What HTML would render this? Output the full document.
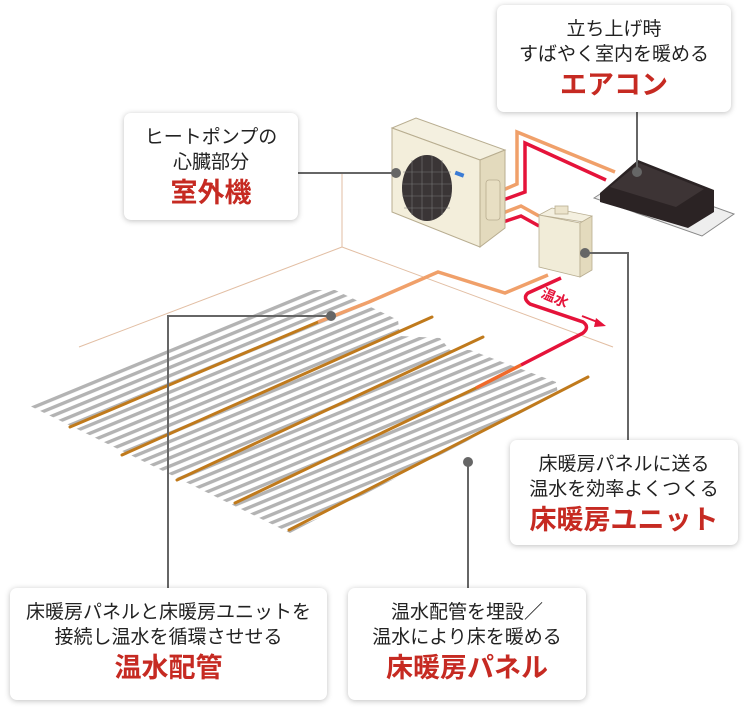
<!DOCTYPE html>
<html><head><meta charset="utf-8"><style>
html,body{margin:0;padding:0;background:#fff;}
body{width:750px;height:708px;position:relative;overflow:hidden;font-family:"Liberation Sans","Noto Sans CJK JP",sans-serif;}
.box{position:absolute;background:#fff;border-radius:7px;box-shadow:0 1px 6px rgba(0,0,0,0.25);text-align:center;color:#222;font-size:19px;line-height:25px;white-space:nowrap;}
.box b{display:block;color:#c62a22;font-size:27px;line-height:36px;font-weight:bold;margin-top:0px;}
svg{position:absolute;left:0;top:0;}
</style></head><body>
<svg width="750" height="708" viewBox="0 0 750 708">
<defs>
<pattern id="st" patternUnits="userSpaceOnUse" width="40" height="7.6" patternTransform="rotate(-22.4)">
<rect x="0" y="0" width="40" height="3.4" fill="#b3b3b3"/>
</pattern>
<clipPath id="cp"><polygon points="28,405 305,290 335,290 398,320 400,336 440,338 450,350 470,350 556,382 558,394 290,533"/></clipPath>
</defs>
<g stroke="#e2bea3" stroke-width="1" fill="none">
<line x1="342" y1="173" x2="342" y2="247"/>
<line x1="342" y1="247" x2="79" y2="347"/>
<line x1="342" y1="247" x2="613" y2="347"/>
</g>
<rect x="0" y="250" width="750" height="300" fill="url(#st)" clip-path="url(#cp)"/>
<g stroke="#c07a1c" stroke-width="3" stroke-linecap="round">
<line x1="70" y1="427" x2="318" y2="322"/>
<line x1="122" y1="455" x2="432" y2="317"/>
<line x1="177" y1="480" x2="483" y2="337"/>
<line x1="235" y1="503" x2="476" y2="388"/>
<line x1="289" y1="530" x2="588" y2="377"/>
</g>
<polyline points="318,322 369,302 438,272 505,293 548,275" fill="none" stroke="#f0a06a" stroke-width="3.5"/>
<polyline points="476,388 521,365" fill="none" stroke="#f06a2a" stroke-width="3.5"/>
<path d="M521,365 L583,333 Q590,327 583,322 L530,304 Q522,298 528,293 L561,278" fill="none" stroke="#e5133a" stroke-width="3.5"/>
<text x="540" y="303" transform="rotate(24 555 300)" font-size="14" font-weight="bold" fill="#e5133a" font-family="Liberation Sans,Noto Sans CJK JP,sans-serif">温水</text>
<line x1="582" y1="316" x2="600" y2="323" stroke="#e5133a" stroke-width="2"/>
<polygon points="606,326 596,318 594,327" fill="#e5133a"/>
<polyline points="503,190 517,184 517,132 615,172" fill="none" stroke="#f0a06a" stroke-width="3.5"/>
<polyline points="503,200 525,192 525,143 606,180" fill="none" stroke="#e5133a" stroke-width="3.5"/>
<polyline points="503,213 521,206 539,216" fill="none" stroke="#f0a06a" stroke-width="3.5"/>
<polyline points="503,222 521,216 539,226" fill="none" stroke="#e5133a" stroke-width="3.5"/>
<polygon points="392,128 416,118 505,150 480,160" fill="#f4f0e0" stroke="#b8ad90" stroke-width="1"/>
<polygon points="392,128 480,160 480,247 392,212" fill="#f3eedb" stroke="#b8ad90" stroke-width="1"/>
<polygon points="480,160 505,150 505,228 480,247" fill="#e3dabd" stroke="#b8ad90" stroke-width="1"/>
<ellipse cx="427" cy="188" rx="25" ry="33" fill="#3a3536"/>
<g stroke="#777" stroke-width="0.6">
<line x1="412" y1="160" x2="412" y2="215"/><line x1="422" y1="156" x2="422" y2="220"/><line x1="432" y1="156" x2="432" y2="220"/><line x1="442" y1="160" x2="442" y2="215"/>
<line x1="403" y1="172" x2="451" y2="172"/><line x1="402" y1="184" x2="452" y2="184"/><line x1="402" y1="196" x2="452" y2="196"/><line x1="404" y1="208" x2="450" y2="208"/>
</g>
<rect x="455" y="172" width="9" height="4" fill="#3a7bd5" transform="rotate(20 459 174)"/>
<rect x="486" y="180" width="14" height="40" rx="3" fill="#e8dfc3" stroke="#b8ad90" stroke-width="0.8"/>
<polygon points="594,198 628,176 734,214 702,236" fill="#eeeeee" stroke="#888" stroke-width="1"/>
<polygon points="600,193 638,160 714,190 714,212 688,228 600,202" fill="#2b2324"/>
<polygon points="610,187 639,163 704,189 676,207" fill="#3d3435"/>
<polygon points="539,215 552,208 592,216 590,223" fill="#f4f0e0" stroke="#b8ad90" stroke-width="0.8"/>
<polygon points="539,215 580,223 580,277 539,267" fill="#f1ecd8" stroke="#b8ad90" stroke-width="0.8"/>
<polygon points="580,223 592,216 592,270 580,277" fill="#e3dabd" stroke="#b8ad90" stroke-width="0.8"/>
<rect x="555" y="206" width="13" height="8" fill="#ece4cc" stroke="#b8ad90" stroke-width="0.8"/>
<g stroke="#666" stroke-width="2" fill="none">
<line x1="298" y1="173" x2="396" y2="173"/>
<line x1="637" y1="112" x2="637" y2="172"/>
<polyline points="585,253 628,253 628,440"/>
<polyline points="331,316 168,316 168,590"/>
<line x1="468" y1="462" x2="468" y2="590"/>
</g>
<g fill="#666">
<circle cx="396" cy="173" r="5"/><circle cx="637" cy="172" r="5"/><circle cx="585" cy="253" r="5"/><circle cx="331" cy="316" r="5"/><circle cx="468" cy="462" r="5"/>
</g>
</svg>
<div class="box" style="left:497px;top:5px;width:234px;height:107px;padding-top:12px;box-sizing:border-box;">立ち上げ時<br>すばやく室内を暖める<b>エアコン</b></div>
<div class="box" style="left:124px;top:113px;width:174px;height:107px;padding-top:12px;box-sizing:border-box;">ヒートポンプの<br>心臓部分<b>室外機</b></div>
<div class="box" style="left:510px;top:440px;width:228px;height:105px;padding-top:12px;box-sizing:border-box;">床暖房パネルに送る<br>温水を効率よくつくる<b>床暖房ユニット</b></div>
<div class="box" style="left:10px;top:588px;width:317px;height:112px;padding-top:12px;box-sizing:border-box;">床暖房パネルと床暖房ユニットを<br>接続し温水を循環させせる<b>温水配管</b></div>
<div class="box" style="left:348px;top:588px;width:238px;height:112px;padding-top:12px;box-sizing:border-box;">温水配管を埋設／<br>温水により床を暖める<b>床暖房パネル</b></div>
</body></html>
